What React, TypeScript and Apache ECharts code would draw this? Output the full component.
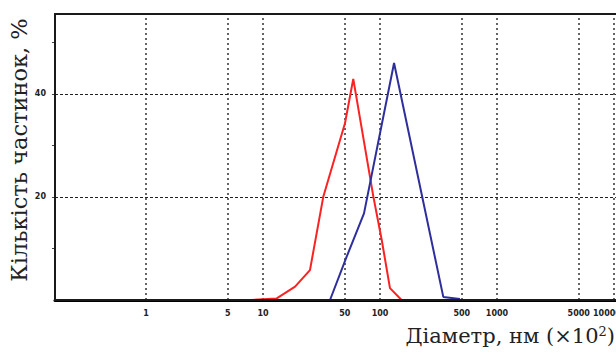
import React, { useEffect, useRef } from "react";
import * as echarts from "echarts";

const xGridValues = [1, 5, 10, 50, 100, 500, 1000, 5000, 10000];
const yGridValues = [20, 40];
const yMinorTicks = [10, 20, 30, 40, 50];

// diameter (nm ×10²), share of particles (%)
const redDiam = [8.0, 13.1, 18.8, 25.2, 32.8, 50.2, 59.1, 87.7, 103.4, 121.7, 153];
const redPct = [0, 0.3, 2.6, 5.8, 20.1, 34.3, 42.9, 20.1, 11.7, 2.3, 0];

const blueDiam = [37.4, 51.9, 73.0, 131.9, 347.6, 482.6];
const bluePct = [0, 8.4, 16.8, 46.0, 0.6, 0.2];

const yTitle = "Кількість частинок, %";
const xTitle = "Діаметр, нм (×10{s|2})";

export default function App() {
  const ref = useRef<HTMLDivElement>(null);
  useEffect(() => {
    if (!ref.current) return;
    const chart = echarts.init(ref.current, null, { renderer: "svg" });
    const pairs = (xs: number[], ys: number[]) => xs.map((x, i) => [x, ys[i]]);
    const serif = "'DejaVu Serif', 'Liberation Serif', serif";
    const small = "'Liberation Sans Narrow', 'DejaVu Sans', sans-serif";
    const lastX = xGridValues[xGridValues.length - 1];
    chart.setOption({
      animation: false,
      backgroundColor: "#ffffff",
      grid: {
        left: 55,
        top: 14,
        bottom: 56,
        right: -1,
        outerBoundsMode: "none",
        containLabel: false,
      },
      xAxis: {
        type: "log",
        logBase: 10,
        min: 0.1667,
        max: 10617,
        axisLine: { show: true, lineStyle: { color: "#000", width: 3 } },
        axisTick: { show: false },
        splitLine: { show: false },
        minorTick: { show: false },
        axisLabel: {
          customValues: xGridValues,
          formatter: (v: number) => {
            const s = String(Math.round(v));
            return Math.round(v) === lastX ? "{r|" + s + "}" : s;
          },
          fontFamily: small,
          fontSize: 8,
          fontWeight: "bold",
          color: "#222",
          margin: 9,
          hideOverlap: false,
          rich: {
            r: {
              fontFamily: small,
              fontSize: 8,
              fontWeight: "bold",
              color: "#222",
              padding: [0, 14, 0, 0],
            },
          },
        },
      },
      yAxis: {
        type: "value",
        min: 0,
        max: 55.5,
        axisLine: { show: true, lineStyle: { color: "#1a1a1a", width: 2 } },
        axisTick: {
          show: true,
          customValues: yMinorTicks,
          length: 3,
          lineStyle: { color: "#444", width: 1 },
        },
        splitLine: { show: false },
        axisLabel: {
          customValues: yGridValues,
          fontFamily: small,
          fontSize: 8,
          fontWeight: "bold",
          color: "#222",
          margin: 9,
        },
      },
      series: [
        {
          type: "line",
          data: [],
          silent: true,
          markLine: {
            silent: true,
            symbol: "none",
            label: { show: false },
            lineStyle: { color: "#333", width: 1.5, type: [2, 3] },
            data: xGridValues.map((v) => ({ xAxis: v })),
          },
        },
        {
          type: "line",
          data: [],
          silent: true,
          markLine: {
            silent: true,
            symbol: "none",
            label: { show: false },
            lineStyle: { color: "#222", width: 1.2, type: [3, 2] },
            data: yGridValues.map((v) => ({ yAxis: v })),
          },
        },
        {
          type: "line",
          data: pairs(redDiam, redPct),
          showSymbol: false,
          lineStyle: { color: "#fa2222", width: 2 },
          z: 5,
        },
        {
          type: "line",
          data: pairs(blueDiam, bluePct),
          showSymbol: false,
          lineStyle: { color: "#2e2e9c", width: 2 },
          z: 5,
        },
      ],
      graphic: [
        {
          type: "rect",
          shape: { x: 55, y: 14, width: 600, height: 286 },
          style: { fill: "none", stroke: "#1a1a1a", lineWidth: 2 },
          silent: true,
          z: 10,
        },
        {
          type: "text",
          x: 19,
          y: 150,
          rotation: Math.PI / 2,
          style: {
            text: yTitle,
            fontFamily: serif,
            fontSize: 22.5,
            fill: "#222",
            align: "center",
            verticalAlign: "middle",
          },
        },
        {
          type: "text",
          right: 1,
          top: 325,
          style: {
            text: xTitle,
            fontFamily: serif,
            fontSize: 21,
            fill: "#222",
            rich: {
              s: { fontFamily: serif, fontSize: 13, verticalAlign: "top", fill: "#222", padding: [0, 0, 9, 0] },
            },
          },
        },
      ],
    });
    return () => chart.dispose();
  }, []);
  return (
    <div
      ref={ref}
      style={{ position: "fixed", left: 0, top: 0, width: 616, height: 356 }}
    />
  );
}
